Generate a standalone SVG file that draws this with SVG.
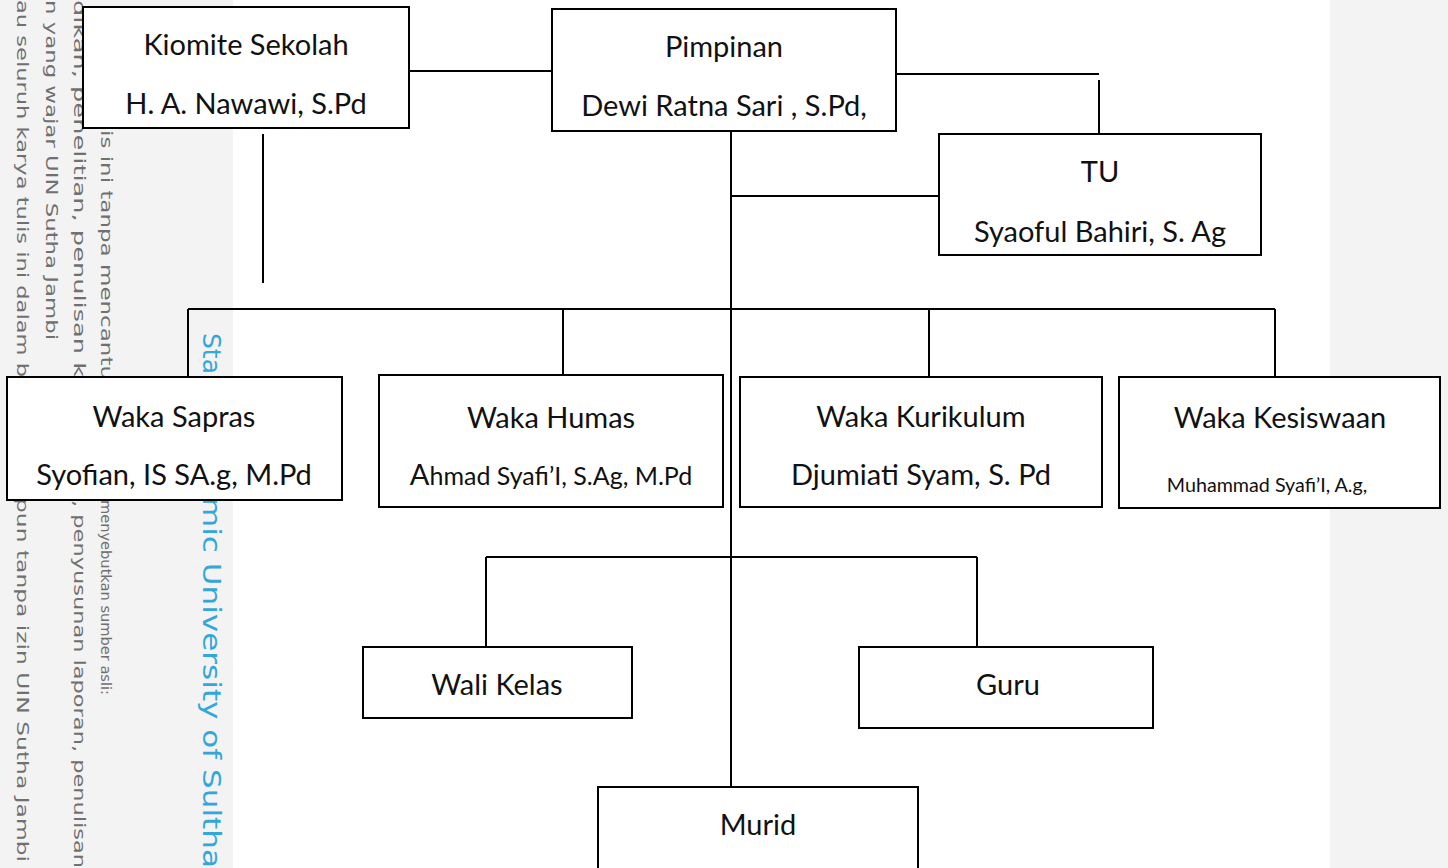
<svg xmlns="http://www.w3.org/2000/svg" width="1448" height="868" viewBox="0 0 1448 868">
<style>
.box{fill:#fff;stroke:#000;stroke-width:2}
.lbl{font-family:Lato,"Liberation Sans",sans-serif;font-size:29px;fill:#111;text-anchor:middle}
.sm{font-size:19.7px}
.wm{font-family:"DejaVu Sans","Liberation Sans",sans-serif;font-size:16px;fill:#707070}
.wms{font-size:14px}
.wmb{font-family:"DejaVu Sans","Liberation Sans",sans-serif;font-size:25px;fill:#33a6dc}
.con{fill:none;stroke:#000;stroke-width:2}
</style>
<rect x="0" y="0" width="1448" height="868" fill="#fff"/>
<g id="watermark">
<rect x="0" y="0" width="233" height="868" fill="#f3f3f3"/>
<rect x="1330" y="0" width="118" height="868" fill="#f3f3f3"/>
<text class="wm" transform="translate(17,0) rotate(90)" textLength="377" lengthAdjust="spacingAndGlyphs">au seluruh karya tulis ini dalam b</text>
<text class="wm" transform="translate(17,498) rotate(90)" textLength="364" lengthAdjust="spacingAndGlyphs">pun tanpa izin UIN Sutha Jambi</text>
<text class="wm" transform="translate(46,0) rotate(90)" textLength="340" lengthAdjust="spacingAndGlyphs">n yang wajar UIN Sutha Jambi</text>
<text class="wm" transform="translate(74,0) rotate(90)" textLength="377" lengthAdjust="spacingAndGlyphs">dikan, penelitian, penulisan k</text>
<text class="wm" transform="translate(74,500) rotate(90)" textLength="368" lengthAdjust="spacingAndGlyphs">, penyusunan laporan, penulisan</text>
<text class="wm" transform="translate(101,130) rotate(90)" textLength="250" lengthAdjust="spacingAndGlyphs">is ini tanpa mencantu</text>
<text class="wm wms" transform="translate(101,500) rotate(90)" textLength="195" lengthAdjust="spacingAndGlyphs">menyebutkan sumber asli:</text>
<text class="wmb" transform="translate(203,333) rotate(90)">Sta</text>
<text class="wmb" transform="translate(203,497) rotate(90)" textLength="371" lengthAdjust="spacingAndGlyphs">mic University of Sultha</text>
</g>
<g id="connectors">
<path class="con" d="M410 71H552"/>
<path class="con" d="M896 74H1099"/>
<path class="con" d="M1099 80V133"/>
<path class="con" d="M263 134V283"/>
<path class="con" d="M731 128V787"/>
<path class="con" d="M731 196H939"/>
<path class="con" d="M188 309H1275"/>
<path class="con" d="M188 309V377"/>
<path class="con" d="M563 309V375"/>
<path class="con" d="M929 309V377"/>
<path class="con" d="M1275 309V377"/>
<path class="con" d="M486 557H977"/>
<path class="con" d="M486 557V647"/>
<path class="con" d="M977 557V647"/>
</g>
<g id="kiomite">
<rect class="box" x="83" y="7" width="326" height="121"/>
<text class="lbl" x="246" y="55">Kiomite Sekolah</text>
<text class="lbl" x="246" y="114">H. A. Nawawi, S.Pd</text>
</g>
<g id="pimpinan">
<rect class="box" x="552" y="9" width="344" height="122"/>
<text class="lbl" x="724" y="57">Pimpinan</text>
<text class="lbl" x="724" y="116">Dewi Ratna Sari , S.Pd,</text>
</g>
<g id="tu">
<rect class="box" x="939" y="134" width="322" height="121"/>
<text class="lbl" x="1100" y="182">TU</text>
<text class="lbl" x="1100" y="242">Syaoful Bahiri, S. Ag</text>
</g>
<g id="sapras">
<rect class="box" x="7" y="377" width="335" height="123"/>
<text class="lbl" x="174" y="427">Waka Sapras</text>
<text class="lbl" x="174" y="485">Syofian, IS SA.g, M.Pd</text>
</g>
<g id="humas">
<rect class="box" x="379" y="375" width="344" height="132"/>
<text class="lbl" x="551" y="428">Waka Humas</text>
<text class="lbl" x="551" y="485"><tspan font-size="29">A</tspan><tspan font-size="25">hmad Syafi’I, S.Ag, M.Pd</tspan></text>
</g>
<g id="kurikulum">
<rect class="box" x="740" y="377" width="362" height="130"/>
<text class="lbl" x="921" y="427">Waka Kurikulum</text>
<text class="lbl" x="921" y="485">Djumiati Syam, S. Pd</text>
</g>
<g id="kesiswaan">
<rect class="box" x="1119" y="377" width="321" height="131"/>
<text class="lbl" x="1280" y="428">Waka Kesiswaan</text>
<text class="lbl sm" x="1267" y="492">Muhammad Syafi’I, A.g,</text>
</g>
<g id="walikelas">
<rect class="box" x="363" y="647" width="269" height="71"/>
<text class="lbl" x="497" y="695">Wali Kelas</text>
</g>
<g id="guru">
<rect class="box" x="859" y="647" width="294" height="81"/>
<text class="lbl" x="1008" y="695">Guru</text>
</g>
<g id="murid">
<rect class="box" x="598" y="787" width="320" height="90"/>
<text class="lbl" x="758" y="835">Murid</text>
</g>
</svg>
